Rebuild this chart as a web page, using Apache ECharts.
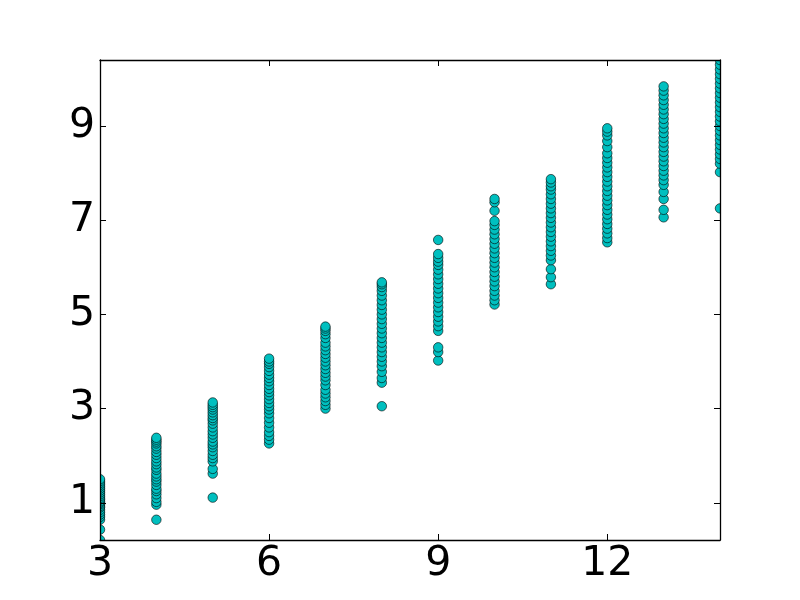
<!DOCTYPE html>
<html>
<head>
<meta charset="utf-8">
<script src="https://cdn.jsdelivr.net/npm/echarts@6/dist/echarts.min.js"></script>
<style>
  html, body { margin: 0; padding: 0; background: #fff; }
  #chart { width: 800px; height: 600px; }
</style>
</head>
<body>
<div id="chart"></div>
<script>
// x categories (whole numbers) and the y values seen in each column
const xValues = [3, 4, 5, 6, 7, 8, 9, 10, 11, 12, 13, 14]
const col3 = [0.21, 0.43, 0.64, 0.7, 0.75, 0.8, 0.85, 0.9, 0.93, 0.97, 1.0, 1.03, 1.07, 1.1, 1.14, 1.18, 1.22, 1.26, 1.3, 1.34, 1.38, 1.42, 1.46, 1.5]
const col4 = [0.64, 0.96, 1.02, 1.1, 1.18, 1.25, 1.3, 1.38, 1.45, 1.5, 1.56, 1.62, 1.7, 1.75, 1.82, 1.88, 1.95, 2.02, 2.08, 2.15, 2.2, 2.26, 2.3, 2.34, 2.38]
const col5 = [1.11, 1.62, 1.72, 1.88, 1.95, 2.02, 2.1, 2.18, 2.24, 2.3, 2.38, 2.45, 2.52, 2.6, 2.68, 2.75, 2.8, 2.86, 2.92, 2.98, 3.03, 3.08, 3.13]
const col6 = [2.26, 2.34, 2.42, 2.5, 2.6, 2.7, 2.8, 2.9, 2.98, 3.05, 3.12, 3.2, 3.28, 3.35, 3.42, 3.5, 3.58, 3.65, 3.72, 3.8, 3.88, 3.95, 4.0, 4.06]
const col7 = [3.0, 3.08, 3.16, 3.24, 3.32, 3.4, 3.5, 3.6, 3.68, 3.76, 3.84, 3.92, 4.0, 4.08, 4.16, 4.24, 4.32, 4.4, 4.5, 4.58, 4.65, 4.7, 4.74]
const col8 = [3.05, 3.55, 3.65, 3.78, 3.9, 4.0, 4.1, 4.2, 4.3, 4.4, 4.5, 4.6, 4.7, 4.8, 4.9, 5.0, 5.1, 5.2, 5.3, 5.4, 5.5, 5.58, 5.64, 5.68]
const col9 = [4.02, 4.2, 4.3, 4.65, 4.75, 4.85, 4.95, 5.05, 5.15, 5.25, 5.35, 5.45, 5.55, 5.65, 5.75, 5.85, 5.95, 6.05, 6.12, 6.2, 6.28, 6.58]
const col10 = [5.21, 5.3, 5.4, 5.5, 5.6, 5.7, 5.8, 5.9, 6.0, 6.1, 6.2, 6.3, 6.4, 6.5, 6.6, 6.7, 6.8, 6.9, 6.98, 7.2, 7.38, 7.45]
const col11 = [5.64, 5.79, 5.96, 6.15, 6.25, 6.35, 6.45, 6.55, 6.65, 6.75, 6.85, 6.95, 7.05, 7.15, 7.25, 7.35, 7.45, 7.55, 7.65, 7.72, 7.8, 7.87]
const col12 = [6.53, 6.62, 6.72, 6.82, 6.92, 7.02, 7.12, 7.22, 7.32, 7.42, 7.52, 7.62, 7.72, 7.82, 7.92, 8.02, 8.12, 8.22, 8.32, 8.42, 8.55, 8.68, 8.8, 8.88, 8.95]
const col13 = [7.06, 7.22, 7.45, 7.6, 7.75, 7.85, 7.95, 8.05, 8.15, 8.25, 8.35, 8.45, 8.55, 8.65, 8.75, 8.85, 8.95, 9.05, 9.15, 9.25, 9.35, 9.45, 9.55, 9.65, 9.75, 9.84]
const col14 = [7.25, 8.02, 8.2, 8.3, 8.4, 8.5, 8.6, 8.7, 8.8, 8.9, 9.0, 9.1, 9.2, 9.3, 9.4, 9.5, 9.6, 9.7, 9.8, 9.9, 10.0, 10.1, 10.2, 10.3, 10.4]
const columns = [col3, col4, col5, col6, col7, col8, col9, col10, col11, col12, col13, col14]

const xTicks = [3, 6, 9, 12]
const yTicks = [1, 3, 5, 7, 9]

let points = []
columns.forEach((col, i) => {
  col.forEach(v => points.push([xValues[i], v]))
})

const labelFont = { fontFamily: 'DejaVu Sans', fontSize: 41, color: '#000' }
const axisLine = { show: true, onZero: false, lineStyle: { color: '#000', width: 1.3 } }
const tickStyle = { show: true, inside: true, length: 6, lineStyle: { color: '#000', width: 1 } }

const option = {
  animation: false,
  backgroundColor: '#fff',
  grid: { left: 100, top: 60, right: 80, bottom: 60, show: false },
  // white strips just outside the plot so markers get cut at the frame
  graphic: [
    { type: 'rect', z: 3, shape: { x: 88, y: 50, width: 12, height: 500 }, style: { fill: '#fff' } },
    { type: 'rect', z: 3, shape: { x: 720, y: 50, width: 12, height: 500 }, style: { fill: '#fff' } },
    { type: 'rect', z: 3, shape: { x: 88, y: 48, width: 644, height: 12 }, style: { fill: '#fff' } },
    { type: 'rect', z: 3, shape: { x: 88, y: 540, width: 644, height: 12 }, style: { fill: '#fff' } }
  ],
  xAxis: [
    {
      type: 'value', min: 3, max: 14, interval: 3, z: 10,
      position: 'bottom',
      axisLine: axisLine,
      axisTick: Object.assign({ customValues: xTicks }, tickStyle),
      axisLabel: Object.assign({ margin: 4, customValues: xTicks }, labelFont),
      splitLine: { show: false }
    },
    {
      type: 'value', min: 3, max: 14, interval: 3, z: 10,
      position: 'top',
      axisLine: axisLine,
      axisTick: Object.assign({ customValues: xTicks }, tickStyle),
      axisLabel: { show: false },
      splitLine: { show: false }
    }
  ],
  yAxis: [
    {
      type: 'value', min: 0.21, max: 10.4, z: 10,
      position: 'left',
      axisLine: axisLine,
      axisTick: Object.assign({ customValues: yTicks }, tickStyle),
      axisLabel: Object.assign({ margin: 5, customValues: yTicks }, labelFont),
      splitLine: { show: false }
    },
    {
      type: 'value', min: 0.21, max: 10.4, z: 10,
      position: 'right',
      axisLine: axisLine,
      axisTick: Object.assign({ customValues: yTicks }, tickStyle),
      axisLabel: { show: false },
      splitLine: { show: false }
    }
  ],
  series: [
    {
      type: 'scatter',
      data: points,
      symbol: 'circle',
      symbolSize: 9.5,
      itemStyle: { color: '#00bfbf', borderColor: '#000', borderWidth: 0.6, opacity: 1 }
    }
  ]
}

let chart = echarts.init(document.getElementById('chart'))
chart.setOption(option)
</script>
</body>
</html>
